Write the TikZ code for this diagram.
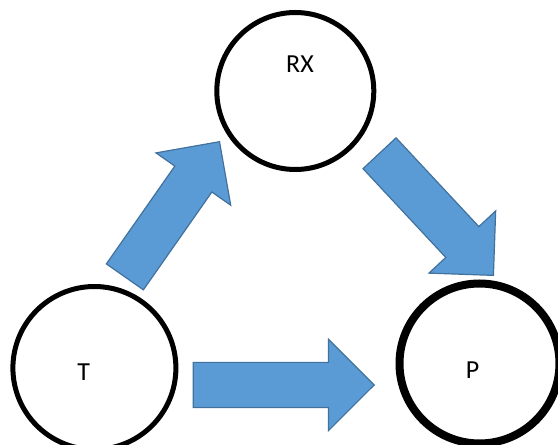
\documentclass[tikz,border=0pt]{standalone}
\usepackage{fontspec}
\setmainfont{Carlito}
\usepackage{tikz}
\usetikzlibrary{positioning}
\usetikzlibrary{shapes.arrows}
\definecolor{arrowfill}{HTML}{5B9BD5}
\definecolor{arrowline}{HTML}{41719C}
\tikzset{ring/.style={circle,draw=black,line width=5pt,inner sep=0pt}}
\tikzset{blockarrow/.style={single arrow,fill=arrowfill,draw=arrowline,line width=1.2pt,inner xsep=0pt,inner ysep=22pt,single arrow head extend=23pt,single arrow tip angle=90,anchor=tip}}
\tikzset{lbl/.style={font=\fontsize{26}{30}\selectfont}}

\begin{document}
\begin{tikzpicture}[x=1pt,y=1pt]
\useasboundingbox (0,0) rectangle (558,445);
% the three states
\node[ring,minimum size=157pt] (rx) at (295.3,354) {};
\node[ring,minimum size=163pt] (t) at (94.4,77) {};
\node[ring,line width=8pt,minimum size=160pt] (p) at (479.5,81.5) {};
\node[lbl] (rxl) at (300,381) {RX};
\node[lbl] (tl) at (83.6,73) {T};
\node[lbl] (pl) at (472.6,75) {P};
% block arrows, placed by their tips
\node[blockarrow,minimum height=181pt] (t2p) at (375,60) {};
\node[blockarrow,minimum height=165pt,rotate=55] (t2rx) at (220,304) {};
\node[blockarrow,minimum height=167pt,rotate=-47] (rx2p) at (494,169) {};
\end{tikzpicture}
\end{document}
